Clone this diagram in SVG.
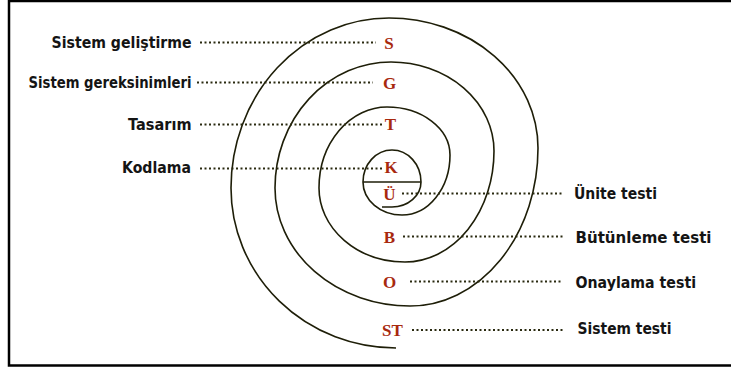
<svg xmlns="http://www.w3.org/2000/svg" width="731" height="370" viewBox="0 0 731 370">
<style>
.frame{stroke:#000;stroke-width:2.5;fill:none}
.sp{fill:none;stroke:#1e1e08;stroke-width:1.6}
.lead{stroke:#2a2a10;stroke-width:2;stroke-dasharray:2 2.5;fill:none}
.lbl{font-family:"DejaVu Sans","Verdana",sans-serif;font-weight:bold;font-size:15.5px;fill:#141414}
.ltr{font-family:"Liberation Serif","Times New Roman",serif;font-weight:bold;font-size:17px;fill:#a8290e;text-anchor:middle}
</style>
<rect width="731" height="370" fill="#fff"/>
<g id="frame">
<path class="frame" d="M731,1 L9,1 L9,365.5 L731,365.5"/>
</g>
<g id="connectors">
<path class="sp" d="M363,182 A39,33 0 0 0 402,215 A48,60 0 0 0 450,155 A63,48 0 0 0 387,107 A68,81 0 0 0 319,188 A86,74 0 0 0 405,262 A89,111 0 0 0 494,151 A103,89 0 0 0 391,62 A116,126 0 0 0 275,188 A135,118 0 0 0 410,306 A128,158 0 0 0 538,148 A149,130 0 0 0 389,18 A158,170 0 0 0 231,188 A165,160 0 0 0 396,348"/>
<path class="sp" d="M363,182 A29,32 0 0 1 421,182 A29,25 0 0 1 392,207 L382,207"/>
<line class="sp" x1="363" y1="182" x2="421" y2="182"/>
<line class="lead" x1="200" y1="42.5" x2="376" y2="42.5"/>
<line class="lead" x1="197" y1="82.5" x2="373" y2="82.5"/>
<line class="lead" x1="200" y1="124.5" x2="382" y2="124.5"/>
<line class="lead" x1="200" y1="168.5" x2="382" y2="168.5"/>
<line class="lead" x1="402" y1="193.5" x2="563" y2="193.5"/>
<line class="lead" x1="403" y1="236.5" x2="563" y2="236.5"/>
<line class="lead" x1="410" y1="281.5" x2="563" y2="281.5"/>
<line class="lead" x1="412" y1="330" x2="564" y2="330"/>
</g>
<g id="node-S"><text class="lbl" x="51.5" y="48" textLength="140" lengthAdjust="spacingAndGlyphs">Sistem geliştirme</text><text class="ltr" x="389" y="48.5">S</text></g>
<g id="node-G"><text class="lbl" x="28.5" y="88" textLength="163" lengthAdjust="spacingAndGlyphs">Sistem gereksinimleri</text><text class="ltr" x="389.5" y="88.5">G</text></g>
<g id="node-T"><text class="lbl" x="128" y="129.5" textLength="63.5" lengthAdjust="spacingAndGlyphs">Tasarım</text><text class="ltr" x="390.5" y="130">T</text></g>
<g id="node-K"><text class="lbl" x="122" y="173" textLength="69" lengthAdjust="spacingAndGlyphs">Kodlama</text><text class="ltr" x="391" y="172.5">K</text></g>
<g id="node-U"><text class="lbl" x="574" y="198.5" textLength="83" lengthAdjust="spacingAndGlyphs">Ünite testi</text><text class="ltr" x="389.5" y="200">Ü</text></g>
<g id="node-B"><text class="lbl" x="575.5" y="242.5" textLength="136" lengthAdjust="spacingAndGlyphs">Bütünleme testi</text><text class="ltr" x="389.5" y="242.5">B</text></g>
<g id="node-O"><text class="lbl" x="575.5" y="288" textLength="120.5" lengthAdjust="spacingAndGlyphs">Onaylama testi</text><text class="ltr" x="389.5" y="288">O</text></g>
<g id="node-ST"><text class="lbl" x="577.5" y="334" textLength="94" lengthAdjust="spacingAndGlyphs">Sistem testi</text><text class="ltr" x="392.5" y="335.5">ST</text></g>
</svg>
